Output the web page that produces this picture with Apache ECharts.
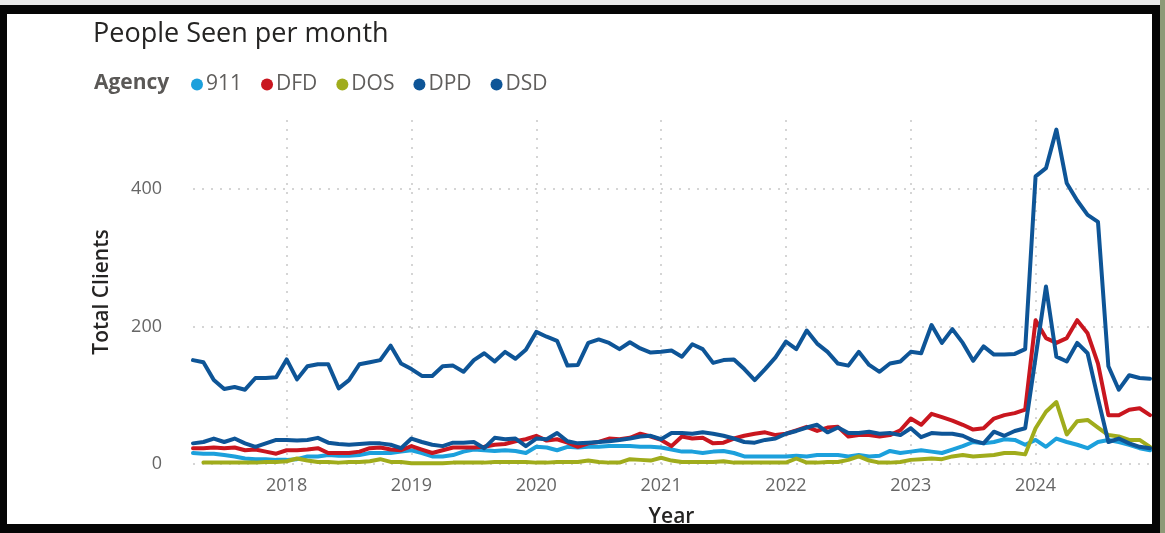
<!DOCTYPE html>
<html>
<head>
<meta charset="utf-8">
<script src="https://cdn.jsdelivr.net/npm/echarts@6/dist/echarts.min.js"></script>
<style>
  html, body { margin: 0; padding: 0; width: 1165px; height: 533px; overflow: hidden; background: #e9e9e9; }
  #frame { position: absolute; left: 0; top: 5px; width: 1160px; height: 528px; background: #050505; }
  #inner { position: absolute; left: 7px; top: 14px; width: 1145px; height: 510px; background: #ffffff; }
  #strip { position: absolute; left: 1160px; top: 0; width: 5px; height: 533px; background: #8e9a78; }
  #chart { position: absolute; left: 0; top: 0; width: 1165px; height: 533px; }
</style>
</head>
<body>
<div id="frame"></div>
<div id="inner"></div>
<div id="strip"></div>
<div id="chart"></div>
<script>
// Months: April 2017 .. December 2024
const months = [];
for (let y = 2017; y <= 2024; y++) {
  for (let m = (y === 2017 ? 4 : 1); m <= 12; m++) {
    months.push(y + '-' + String(m).padStart(2, '0'));
  }
}

const agencies = ['911', 'DFD', 'DOS', 'DPD', 'DSD'];

const s911 = [16,15,15,13,11,8,7,7,6,6,7,11,11,13,12,12,
  13,16,16,16,18,20,16,11,11,13,18,21,20,19,20,19,
  16,25,24,20,25,24,25,25,26,26,26,25,25,24,21,18,
  18,16,18,19,16,11,11,11,11,11,12,11,13,13,13,11,
  13,11,12,19,16,18,20,18,16,21,26,32,30,32,36,35,
  28,35,25,37,32,28,23,32,35,32,28,23,20];

const sDFD = [23,23,24,23,24,20,21,18,15,20,20,21,23,16,16,16,
  18,23,24,21,20,26,21,16,20,24,24,24,25,28,29,33,
  36,41,34,36,31,25,30,32,37,36,38,44,40,35,26,40,
  37,38,30,31,37,41,44,46,42,44,49,54,48,53,54,40,
  42,42,40,42,49,66,57,73,68,63,57,50,52,66,71,74,
  79,209,183,176,183,209,190,146,71,71,79,81,71];

const sDOS = [null,2,2,2,2,2,2,3,3,4,8,5,3,3,2,3,
  3,4,7,3,3,1,1,1,1,2,2,2,2,3,3,3,
  3,2,2,3,3,3,5,3,2,2,7,6,5,9,5,3,
  3,3,3,4,2,2,2,2,2,2,8,2,2,3,3,6,
  11,5,2,2,3,6,7,8,7,11,13,11,12,13,16,16,
  14,52,76,90,43,62,64,53,42,40,35,35,25];

const sDPD = [151,148,122,109,112,108,125,125,126,152,123,142,145,145,110,122,
  145,148,151,172,146,138,128,128,142,143,134,151,161,149,163,153,
  166,192,185,179,143,144,176,181,176,167,177,168,162,163,165,156,
  174,167,147,151,152,138,122,138,155,178,167,194,175,163,146,143,
  163,144,134,146,149,163,161,202,176,196,176,150,171,159,159,160,
  167,418,430,486,408,383,362,352,142,108,129,125,124];

const sDSD = [30,32,37,32,37,30,25,30,35,35,34,35,38,31,29,28,
  29,30,30,28,23,37,32,28,26,31,31,32,23,38,36,37,
  26,37,36,45,33,30,31,32,33,35,37,40,41,36,45,45,
  44,46,44,41,37,32,31,35,37,44,48,53,57,46,53,45,
  45,47,44,45,42,52,39,45,44,44,41,34,30,47,41,48,
  52,155,258,156,149,176,161,95,32,37,30,25,23];

const yTicks = [0, 200, 400];

const colors = ['#1ca0dc', '#c9161f', '#a0ac1c', '#0e5597', '#0e5597'];
const seriesData = [s911, sDFD, sDOS, sDPD, sDSD];

const isYearStart = (idx, val) => String(val).endsWith('-01');
const gridColor = '#c8c8c8';

const chart = echarts.init(document.getElementById('chart'), null, { renderer: 'canvas' });
chart.setOption({
  backgroundColor: 'transparent',
  animation: false,
  color: colors,
  title: [
    { text: 'People Seen per month', left: 88, top: 16,
      textStyle: { fontFamily: 'Open Sans', fontSize: 27, fontWeight: 'normal', color: '#252423' } },
    { text: 'Agency', left: 89, top: 68,
      textStyle: { fontFamily: 'Open Sans', fontSize: 21, fontWeight: 'bold', color: '#5a5856' } }
  ],
  legend: {
    data: agencies,
    left: 186, top: 69,
    icon: 'circle', itemWidth: 12, itemHeight: 12, itemGap: 19,
    textStyle: { fontFamily: 'Open Sans', fontSize: 21, color: '#605e5c', padding: [0, 0, 0, -2] }
  },
  grid: { left: 193, right: 15, top: 120, bottom: 69, containLabel: false },
  xAxis: {
    type: 'category',
    data: months,
    boundaryGap: false,
    name: 'Year',
    nameLocation: 'middle',
    nameGap: 43,
    nameTextStyle: { fontFamily: 'Open Sans', fontSize: 21, fontWeight: 600, color: '#252423' },
    axisLine: { show: false },
    axisTick: { show: false },
    axisLabel: {
      interval: isYearStart,
      formatter: v => v.slice(0, 4),
      margin: 13,
      fontFamily: 'Open Sans', fontSize: 18, color: '#666666'
    },
    splitLine: {
      show: true,
      interval: isYearStart,
      lineStyle: { color: gridColor, type: [2, 7], width: 1.5 }
    }
  },
  yAxis: {
    type: 'value',
    min: 0, max: 500, interval: 200,
    name: 'Total Clients',
    nameLocation: 'middle',
    nameGap: 80,
    nameRotate: 90,
    nameTextStyle: { fontFamily: 'Open Sans', fontSize: 21, fontWeight: 600, color: '#252423' },
    axisLine: { show: false },
    axisTick: { show: false },
    axisLabel: {
      showMaxLabel: false,
      margin: 31,
      fontFamily: 'Open Sans', fontSize: 18, color: '#666666',
      formatter: v => (yTicks.includes(v) ? String(v) : '')
    },
    splitLine: {
      show: true,
      lineStyle: { color: [gridColor, gridColor, gridColor, 'rgba(0,0,0,0)'], type: [2, 7], width: 1.5 }
    }
  },
  series: agencies.map((name, k) => ({
    name: name,
    type: 'line',
    data: seriesData[k],
    showSymbol: false,
    symbol: 'none',
    connectNulls: false,
    lineStyle: { width: 4, color: colors[k], join: 'round', cap: 'round' },
    itemStyle: { color: colors[k] },
    emphasis: { disabled: true }
  }))
});
</script>
</body>
</html>
